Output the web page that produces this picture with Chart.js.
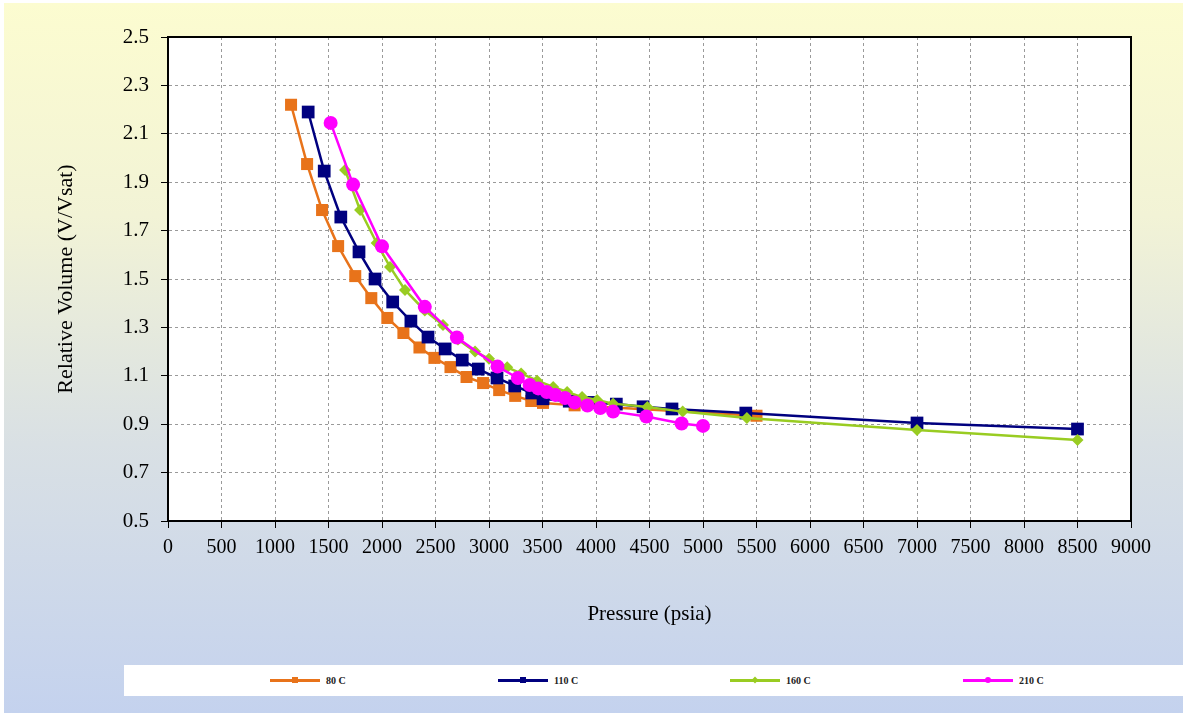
<!DOCTYPE html>
<html>
<head>
<meta charset="utf-8">
<script src="https://cdn.jsdelivr.net/npm/chart.js@4.4.0/dist/chart.umd.min.js"></script>
<style>
  html, body { margin: 0; padding: 0; background: #fff; }
  #bg { position: absolute; left: 4px; top: 3px; width: 1179px; height: 710px;
        background: linear-gradient(#fcfcd0 0%, #f2f3d6 30%, #d9e0e4 62%, #c4d2ee 100%); }
  #c { position: absolute; left: 0; top: 0; }
  #legend { position: absolute; left: 124px; top: 665px; width: 1059px; height: 31px; background: #fff; }
  .item { position: absolute; top: 0; height: 31px; display: flex; align-items: center;
          font: bold 10px "Liberation Serif", serif; color: #222; }
  .swatch { position: relative; width: 50px; height: 3px; margin-right: 6px; }
  .mark { position: absolute; left: 22px; top: -2px; width: 6px; height: 6px; }
</style>
</head>
<body>
<div id="bg"></div>
<canvas id="c" width="1183" height="713"></canvas>
<div id="legend"></div>
<script>
// pressure (psia) and relative volume for each temperature
const p80  = [1150, 1300, 1440, 1590, 1750, 1900, 2050, 2200, 2350, 2490, 2640, 2790, 2945, 3095, 3245, 3395, 3505, 3800, 5500];
const v80  = [2.22, 1.975, 1.785, 1.636, 1.512, 1.421, 1.339, 1.277, 1.217, 1.174, 1.136, 1.095, 1.07, 1.041, 1.017, 0.996, 0.988, 0.978, 0.935];

const p110 = [1310, 1460, 1615, 1785, 1935, 2100, 2270, 2430, 2590, 2750, 2900, 3075, 3240, 3400, 3505, 3750, 3950, 4190, 4440, 4710, 5400, 7000, 8500];
const v110 = [2.19, 1.946, 1.756, 1.612, 1.5, 1.405, 1.326, 1.26, 1.211, 1.165, 1.128, 1.091, 1.058, 1.029, 1.005, 0.995, 0.99, 0.983, 0.972, 0.963, 0.946, 0.905, 0.88];

const p160 = [1655, 1795, 1950, 2075, 2215, 2400, 2570, 2710, 2870, 3000, 3170, 3300, 3450, 3600, 3730, 3870, 4010, 4160, 4480, 4810, 5410, 7000, 8500];
const v160 = [1.95, 1.785, 1.649, 1.55, 1.455, 1.37, 1.31, 1.25, 1.2, 1.17, 1.135, 1.11, 1.08, 1.054, 1.033, 1.012, 1.0, 0.985, 0.971, 0.952, 0.926, 0.876, 0.835];

const p210 = [1520, 1730, 2000, 2400, 2700, 3080, 3270, 3380, 3460, 3540, 3620, 3710, 3800, 3920, 4040, 4160, 4470, 4800, 5000];
const v210 = [2.145, 1.89, 1.635, 1.385, 1.258, 1.138, 1.091, 1.062, 1.048, 1.033, 1.021, 1.008, 0.99, 0.977, 0.967, 0.952, 0.932, 0.903, 0.893];

const seriesNames = ["80 C", "110 C", "160 C", "210 C"];

const pts = (xs, ys) => xs.map((x, i) => ({ x: x, y: ys[i] }));

const plotFrame = {
  id: "plotFrame",
  beforeDraw(chart) {
    const { ctx, chartArea: a } = chart;
    ctx.save();
    ctx.fillStyle = "#fff";
    ctx.fillRect(a.left, a.top, a.right - a.left, a.bottom - a.top);
    ctx.restore();
  },
  afterDraw(chart) {
    const { ctx, chartArea: a } = chart;
    ctx.save();
    ctx.setLineDash([]);
    ctx.strokeStyle = "#000";
    ctx.lineWidth = 2;
    ctx.strokeRect(a.left, a.top, a.right - a.left, a.bottom - a.top);
    ctx.restore();
  }
};

const gridOpts = { color: "#9a9a9a", tickLength: 7, tickColor: "#000", tickBorderDash: [1, 0] };
const borderOpts = { color: "#000", width: 2, dash: [3, 3] };

const chart = new Chart(document.getElementById("c"), {
  type: "scatter",
  data: {
    datasets: [
      { label: seriesNames[0], data: pts(p80, v80), borderColor: "#e8731a", backgroundColor: "#e8731a",
        pointStyle: "rect", pointRadius: 8.5, order: 4 },
      { label: seriesNames[1], data: pts(p110, v110), borderColor: "#00007f", backgroundColor: "#00007f",
        pointStyle: "rect", pointRadius: 9, order: 3 },
      { label: seriesNames[2], data: pts(p160, v160), borderColor: "#99cc22", backgroundColor: "#99cc22",
        pointStyle: "rectRot", pointRadius: 6, order: 2 },
      { label: seriesNames[3], data: pts(p210, v210), borderColor: "#ff00ff", backgroundColor: "#ff00ff",
        pointStyle: "circle", pointRadius: 7, order: 1 }
    ].map(d => Object.assign(d, { showLine: true, borderWidth: 2.5, pointBorderWidth: 0, pointHoverRadius: d.pointRadius }))
  },
  options: {
    responsive: false,
    animation: false,
    layout: { padding: { left: 51, top: 37, right: 52, bottom: 85 } },
    plugins: { legend: { display: false }, tooltip: { enabled: false } },
    scales: {
      x: {
        type: "linear", min: 0, max: 9000,
        ticks: { stepSize: 500, color: "#000", padding: 8, maxRotation: 0,
                 font: { family: "Liberation Serif", size: 20 },
                 callback: v => String(v) },
        grid: gridOpts,
        border: borderOpts,
        title: { display: true, text: "Pressure (psia)", color: "#000", padding: { top: 4, bottom: 1 },
                 font: { family: "Liberation Serif", size: 21 } },
        afterFit(s) { s.height = 107; }
      },
      y: {
        type: "linear", min: 0.5, max: 2.5,
        ticks: { stepSize: 0.2, color: "#000", padding: 12,
                 font: { family: "Liberation Serif", size: 21 },
                 callback: v => v.toFixed(1) },
        grid: gridOpts,
        border: borderOpts,
        title: { display: true, text: "Relative Volume (V/Vsat)", color: "#000", padding: { top: 2, bottom: 2 },
                 font: { family: "Liberation Serif", size: 22 } },
        afterFit(s) { s.width = 117; }
      }
    }
  },
  plugins: [plotFrame]
});

// legend strip built from the datasets
const legendX = [146, 374, 606, 839];
const legend = document.getElementById("legend");
chart.data.datasets.forEach((d, i) => {
  const item = document.createElement("div");
  item.className = "item";
  item.style.left = legendX[i] + "px";
  const sw = document.createElement("div");
  sw.className = "swatch";
  sw.style.background = d.borderColor;
  const mk = document.createElement("div");
  mk.className = "mark";
  mk.style.background = d.borderColor;
  if (d.pointStyle === "circle") mk.style.borderRadius = "50%";
  if (d.pointStyle === "rectRot") mk.style.transform = "rotate(45deg) scale(0.8)";
  sw.appendChild(mk);
  const tx = document.createElement("span");
  tx.textContent = d.label;
  item.appendChild(sw);
  item.appendChild(tx);
  legend.appendChild(item);
});
</script>
</body>
</html>
